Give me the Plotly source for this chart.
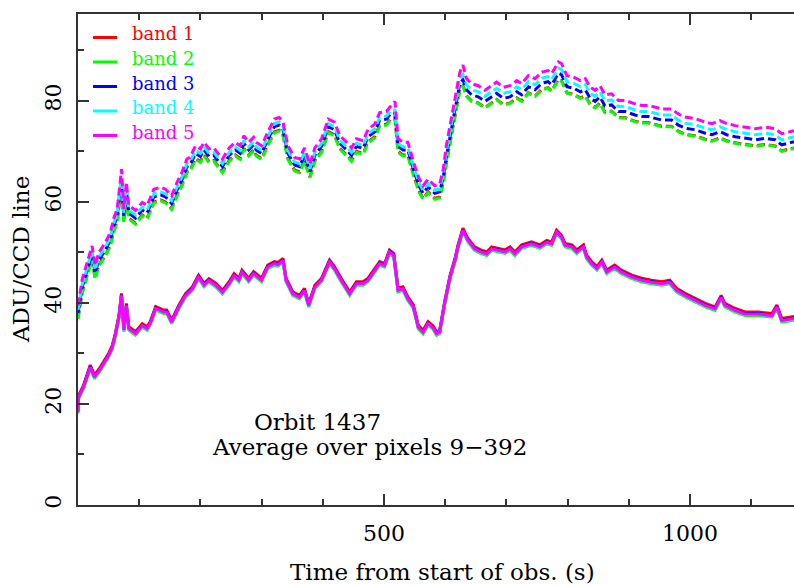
import plotly.graph_objects as go

# ---------------- data ----------------
bands = ["band 1", "band 2", "band 3", "band 4", "band 5"]
colors = ["#ff0000", "#00ff00", "#0000ff", "#00ffff", "#ff00ff"]

# lower group (solid lines)
t_low = [0, 1, 9, 20, 27, 37, 50, 56, 61, 67,
         71, 75, 79, 83, 94, 105, 113, 118, 127, 140,
         145, 153, 165, 176, 187, 197, 206, 214, 225, 236,
         247, 255, 263, 268, 279, 287, 300, 310, 321, 327,
         335, 340, 351, 362, 370, 377, 387, 398, 411, 419,
         430, 444, 455, 466, 474, 485, 493, 501, 509, 516,
         523, 531, 539, 548, 556, 564, 572, 580, 586, 591,
         599, 608, 616, 621, 629, 637, 648, 658, 668, 676,
         687, 698, 706, 714, 725, 741, 755, 766, 774, 782,
         790, 796, 807, 815, 826, 831, 839, 848, 856, 864,
         877, 888, 905, 921, 937, 954, 967, 978, 992, 1008,
         1025, 1041, 1051, 1057, 1074, 1090, 1112, 1134, 1142, 1150,
         1170]

low_band1 = [18.8, 21.7, 23.7, 27.7, 25.7, 27.4, 30.0, 31.6, 34.0, 37.6,
             41.9, 35.0, 39.9, 35.3, 34.3, 35.9, 35.3, 36.3, 39.3, 38.6,
             38.6, 36.6, 39.6, 41.9, 43.2, 45.5, 43.9, 44.8, 43.9, 42.5,
             44.2, 45.8, 44.9, 46.5, 44.9, 46.2, 44.9, 47.5, 48.2, 48.0,
             48.8, 44.9, 42.2, 41.5, 42.9, 39.9, 43.5, 44.9, 48.5, 47.2,
             44.9, 42.2, 44.2, 44.2, 44.9, 46.8, 48.2, 47.8, 50.5, 49.8,
             42.9, 43.2, 41.2, 39.6, 35.6, 34.6, 36.3, 35.5, 34.3, 34.6,
             40.2, 45.5, 48.8, 51.5, 54.8, 52.8, 51.1, 50.5, 50.1, 51.1,
             50.8, 50.5, 51.1, 50.1, 51.5, 52.1, 51.5, 52.4, 52.1, 54.4,
             53.4, 51.8, 51.5, 50.5, 51.5, 49.5, 48.2, 47.2, 48.5, 46.5,
             47.5, 46.5, 45.5, 44.9, 44.5, 44.2, 44.5, 42.9, 41.9, 40.9,
             39.9, 39.2, 41.5, 39.9, 38.9, 38.2, 38.2, 37.9, 39.6, 36.9,
             37.3]
low_band2 = [18.1, 21.0, 23.0, 27.0, 25.0, 26.7, 29.3, 30.9, 33.3, 36.9,
             41.2, 34.3, 39.2, 34.6, 33.6, 35.2, 34.6, 35.6, 38.6, 37.9,
             37.9, 35.9, 38.9, 41.2, 42.5, 44.8, 43.2, 44.1, 43.2, 41.8,
             43.5, 45.1, 44.2, 45.8, 44.2, 45.5, 44.2, 46.8, 47.5, 47.3,
             48.1, 44.2, 41.5, 40.8, 42.2, 39.2, 42.8, 44.2, 47.8, 46.5,
             44.2, 41.5, 43.5, 43.5, 44.2, 46.1, 47.5, 47.1, 49.8, 49.1,
             42.2, 42.5, 40.5, 38.9, 34.9, 33.9, 35.6, 34.8, 33.6, 33.9,
             39.5, 44.8, 48.1, 50.8, 54.1, 52.1, 50.4, 49.8, 49.4, 50.4,
             50.1, 49.8, 50.4, 49.4, 50.8, 51.4, 50.8, 51.7, 51.4, 53.7,
             52.7, 51.1, 50.8, 49.8, 50.8, 48.8, 47.5, 46.5, 47.8, 45.8,
             46.8, 45.8, 44.8, 44.2, 43.8, 43.5, 43.8, 42.2, 41.2, 40.2,
             39.2, 38.5, 40.8, 39.2, 38.2, 37.5, 37.5, 37.2, 38.9, 36.2,
             36.6]
low_band3 = [18.5, 21.4, 23.4, 27.4, 25.4, 27.1, 29.7, 31.3, 33.7, 37.3,
             41.6, 34.7, 39.6, 35.0, 34.0, 35.6, 35.0, 36.0, 39.0, 38.3,
             38.3, 36.3, 39.3, 41.6, 42.9, 45.2, 43.6, 44.5, 43.6, 42.2,
             43.9, 45.5, 44.6, 46.2, 44.6, 45.9, 44.6, 47.2, 47.9, 47.7,
             48.5, 44.6, 41.9, 41.2, 42.6, 39.6, 43.2, 44.6, 48.2, 46.9,
             44.6, 41.9, 43.9, 43.9, 44.6, 46.5, 47.9, 47.5, 50.2, 49.5,
             42.6, 42.9, 40.9, 39.3, 35.3, 34.3, 36.0, 35.2, 34.0, 34.3,
             39.9, 45.2, 48.5, 51.2, 54.5, 52.5, 50.8, 50.2, 49.8, 50.8,
             50.5, 50.2, 50.8, 49.8, 51.2, 51.8, 51.2, 52.1, 51.8, 54.1,
             53.1, 51.5, 51.2, 50.2, 51.2, 49.2, 47.9, 46.9, 48.2, 46.2,
             47.2, 46.2, 45.2, 44.6, 44.2, 43.9, 44.2, 42.6, 41.6, 40.6,
             39.6, 38.9, 41.2, 39.6, 38.6, 37.9, 37.9, 37.6, 39.3, 36.6,
             37.0]
low_band4 = [18.3, 21.2, 23.2, 27.2, 25.2, 26.9, 29.5, 31.1, 33.5, 37.1,
             41.4, 34.5, 39.4, 34.8, 33.8, 35.4, 34.8, 35.8, 38.8, 38.1,
             38.1, 36.1, 39.1, 41.4, 42.7, 45.0, 43.4, 44.3, 43.4, 42.0,
             43.7, 45.3, 44.4, 46.0, 44.4, 45.7, 44.4, 47.0, 47.7, 47.5,
             48.3, 44.4, 41.7, 41.0, 42.4, 39.4, 43.0, 44.4, 48.0, 46.7,
             44.4, 41.7, 43.7, 43.7, 44.4, 46.3, 47.7, 47.3, 50.0, 49.3,
             42.4, 42.7, 40.7, 39.1, 35.1, 34.1, 35.8, 35.0, 33.8, 34.1,
             39.7, 45.0, 48.3, 51.0, 54.3, 52.3, 50.6, 50.0, 49.6, 50.6,
             50.3, 50.0, 50.6, 49.6, 51.0, 51.6, 51.0, 51.9, 51.6, 53.9,
             52.9, 51.3, 51.0, 50.0, 51.0, 49.0, 47.7, 46.7, 48.0, 46.0,
             47.0, 46.0, 45.0, 44.4, 44.0, 43.7, 44.0, 42.4, 41.4, 40.4,
             39.4, 38.7, 41.0, 39.4, 38.4, 37.7, 37.7, 37.4, 39.1, 36.4,
             36.8]
low_band5 = [18.4, 21.3, 23.3, 27.3, 25.3, 27.0, 29.6, 31.2, 33.6, 37.2,
             41.5, 34.6, 39.5, 34.9, 33.9, 35.5, 34.9, 35.9, 38.9, 38.2,
             38.2, 36.2, 39.2, 41.5, 42.8, 45.1, 43.5, 44.4, 43.5, 42.1,
             43.8, 45.4, 44.5, 46.1, 44.5, 45.8, 44.5, 47.1, 47.8, 47.6,
             48.4, 44.5, 41.8, 41.1, 42.5, 39.5, 43.1, 44.5, 48.1, 46.8,
             44.5, 41.8, 43.8, 43.8, 44.5, 46.4, 47.8, 47.4, 50.1, 49.4,
             42.5, 42.8, 40.8, 39.2, 35.2, 34.2, 35.9, 35.1, 33.9, 34.2,
             39.8, 45.1, 48.4, 51.1, 54.4, 52.4, 50.7, 50.1, 49.7, 50.7,
             50.4, 50.1, 50.7, 49.7, 51.1, 51.7, 51.1, 52.0, 51.7, 54.0,
             53.0, 51.4, 51.1, 50.1, 51.1, 49.1, 47.8, 46.8, 48.1, 46.1,
             47.1, 46.1, 45.1, 44.5, 44.1, 43.8, 44.1, 42.5, 41.5, 40.5,
             39.5, 38.8, 41.1, 39.5, 38.5, 37.8, 37.8, 37.5, 39.2, 36.5,
             36.9]

# upper group (dashed lines)
t_up = [0, 7, 15, 23, 28, 34, 45, 53, 58, 64,
        69, 71, 75, 79, 83, 94, 105, 113, 124, 135,
        143, 153, 162, 170, 178, 183, 192, 200, 206, 214,
        222, 236, 247, 257, 265, 271, 279, 287, 291, 300,
        310, 321, 329, 335, 343, 354, 362, 370, 379, 387,
        398, 409, 419, 428, 439, 447, 455, 466, 474, 485,
        493, 504, 512, 518, 523, 531, 539, 550, 558, 564,
        572, 583, 591, 597, 602, 608, 613, 619, 624, 629,
        635, 643, 654, 665, 676, 684, 695, 706, 717, 725,
        736, 747, 758, 768, 774, 785, 790, 799, 810, 821,
        829, 837, 845, 853, 861, 872, 883, 894, 910, 921,
        932, 943, 954, 970, 981, 992, 1008, 1025, 1036, 1049,
        1060, 1074, 1090, 1107, 1123, 1139, 1150, 1170]

up_band1 = [37.0, 42.2, 45.5, 48.8, 44.9, 47.5, 49.5, 51.5, 54.1, 56.1,
            61.4, 63.0, 56.1, 61.4, 56.8, 55.8, 57.4, 56.8, 60.0, 60.4,
            60.0, 58.7, 61.4, 63.4, 66.0, 66.3, 68.6, 68.0, 69.3, 68.0,
            68.2, 66.0, 68.2, 69.3, 68.6, 70.6, 69.3, 70.3, 69.3, 68.6,
            71.3, 73.9, 74.2, 73.3, 68.6, 66.3, 66.0, 68.2, 65.0, 68.2,
            70.0, 73.9, 73.3, 70.6, 69.3, 68.2, 70.0, 69.6, 71.9, 72.9,
            75.2, 75.4, 76.6, 76.6, 70.0, 69.3, 69.3, 64.7, 62.0, 60.7,
            62.0, 60.7, 61.0, 64.0, 67.8, 71.7, 75.7, 79.0, 82.3, 83.0,
            81.0, 80.0, 79.6, 78.7, 79.6, 80.3, 79.3, 79.6, 80.6, 80.0,
            81.6, 81.0, 82.3, 82.6, 82.0, 84.3, 84.0, 81.6, 81.3, 80.6,
            81.0, 79.3, 78.7, 79.6, 77.8, 78.0, 76.7, 76.7, 76.0, 75.7,
            75.7, 75.4, 75.0, 75.0, 74.0, 73.4, 73.1, 72.4, 72.1, 72.7,
            72.1, 71.7, 71.4, 71.1, 71.4, 71.1, 70.1, 70.7]
up_band2 = [36.8, 42.0, 45.3, 48.6, 44.7, 47.3, 49.3, 51.3, 53.9, 55.9,
            61.2, 62.8, 55.9, 61.2, 56.6, 55.6, 57.2, 56.6, 59.8, 60.2,
            59.8, 58.5, 61.2, 63.2, 65.8, 66.1, 68.4, 67.8, 69.1, 67.8,
            68.0, 65.8, 68.0, 69.1, 68.4, 70.4, 69.1, 70.1, 69.1, 68.4,
            71.1, 73.7, 74.0, 73.1, 68.4, 66.1, 65.8, 68.0, 64.8, 68.0,
            69.8, 73.7, 73.1, 70.4, 69.1, 68.0, 69.8, 69.4, 71.7, 72.7,
            75.0, 75.2, 76.4, 76.4, 69.8, 69.1, 69.1, 64.5, 61.8, 60.5,
            61.8, 60.5, 60.8, 63.8, 67.7, 71.6, 75.6, 78.9, 82.2, 82.9,
            80.9, 79.9, 79.5, 78.6, 79.5, 80.2, 79.2, 79.5, 80.5, 79.9,
            81.5, 80.9, 82.2, 82.5, 81.9, 84.2, 83.9, 81.5, 81.2, 80.5,
            80.9, 79.2, 78.6, 79.5, 77.7, 77.9, 76.6, 76.6, 75.9, 75.6,
            75.6, 75.3, 74.9, 74.9, 73.9, 73.3, 73.0, 72.3, 72.0, 72.6,
            72.0, 71.6, 71.3, 71.0, 71.3, 71.0, 70.0, 70.6]
up_band3 = [38.0, 43.2, 46.5, 49.8, 45.9, 48.5, 50.5, 52.5, 55.1, 57.1,
            62.4, 64.0, 57.1, 62.4, 57.8, 56.8, 58.4, 57.8, 61.0, 61.4,
            61.0, 59.7, 62.4, 64.4, 67.0, 67.3, 69.6, 69.0, 70.3, 69.0,
            69.2, 67.0, 69.2, 70.3, 69.6, 71.6, 70.3, 71.3, 70.3, 69.6,
            72.3, 74.9, 75.2, 74.3, 69.6, 67.3, 67.0, 69.2, 66.0, 69.2,
            71.0, 74.9, 74.3, 71.6, 70.3, 69.2, 71.0, 70.6, 72.9, 73.9,
            76.2, 76.4, 77.6, 77.6, 71.0, 70.3, 70.3, 65.7, 63.0, 61.7,
            63.0, 61.7, 62.0, 65.0, 69.0, 72.9, 76.9, 80.2, 83.5, 84.2,
            82.2, 81.2, 80.8, 79.9, 80.8, 81.5, 80.5, 80.8, 81.8, 81.2,
            82.8, 82.2, 83.5, 83.8, 83.2, 85.5, 85.2, 82.8, 82.5, 81.8,
            82.2, 80.5, 79.9, 80.8, 79.0, 79.2, 77.9, 77.9, 77.2, 76.9,
            76.9, 76.6, 76.2, 76.2, 75.2, 74.6, 74.3, 73.6, 73.3, 73.9,
            73.3, 72.9, 72.6, 72.3, 72.6, 72.3, 71.3, 71.9]
up_band4 = [38.6, 43.8, 47.1, 50.4, 46.5, 49.1, 51.1, 53.1, 55.7, 57.7,
            63.0, 64.6, 57.7, 63.0, 58.4, 57.4, 59.0, 58.4, 61.6, 62.0,
            61.6, 60.3, 63.0, 65.0, 67.6, 67.9, 70.2, 69.6, 70.9, 69.6,
            69.8, 67.6, 69.8, 70.9, 70.2, 72.2, 70.9, 71.9, 70.9, 70.2,
            72.9, 75.5, 75.8, 74.9, 70.2, 67.9, 67.6, 69.8, 66.6, 69.8,
            71.6, 75.5, 74.9, 72.2, 70.9, 69.8, 71.6, 71.2, 73.5, 74.5,
            76.8, 77.0, 78.2, 78.2, 71.6, 70.9, 70.9, 66.3, 63.6, 62.3,
            63.6, 62.3, 62.6, 65.6, 70.0, 73.9, 77.9, 81.2, 84.5, 85.2,
            83.2, 82.2, 81.8, 80.9, 81.8, 82.5, 81.5, 81.8, 82.8, 82.2,
            83.8, 83.2, 84.5, 84.8, 84.2, 86.5, 86.2, 83.8, 83.5, 82.8,
            83.2, 81.5, 80.9, 81.8, 80.0, 80.2, 78.9, 78.9, 78.2, 77.9,
            77.9, 77.6, 77.2, 77.2, 76.2, 75.6, 75.3, 74.6, 74.3, 74.9,
            74.3, 73.9, 73.6, 73.3, 73.6, 73.3, 72.3, 72.9]
up_band5 = [39.5, 44.7, 48.0, 51.3, 47.4, 50.0, 52.0, 54.0, 56.6, 58.6,
            63.9, 66.5, 58.6, 63.9, 59.3, 58.3, 59.9, 59.3, 62.5, 62.9,
            62.5, 61.2, 63.9, 65.9, 68.5, 68.8, 71.1, 70.5, 71.8, 70.5,
            70.7, 68.5, 70.7, 71.8, 71.1, 73.1, 71.8, 72.8, 71.8, 71.1,
            73.8, 76.4, 76.7, 75.8, 71.1, 68.8, 68.5, 70.7, 67.5, 70.7,
            72.5, 76.4, 75.8, 73.1, 71.8, 70.7, 72.5, 72.1, 74.4, 75.4,
            77.7, 77.9, 79.1, 79.9, 72.5, 71.8, 71.8, 67.2, 64.5, 63.2,
            64.5, 63.2, 63.5, 66.5, 71.2, 75.1, 79.1, 82.4, 85.7, 87.1,
            84.4, 83.4, 83.0, 82.1, 83.0, 83.7, 82.7, 83.0, 84.0, 83.4,
            85.0, 84.4, 85.7, 86.0, 85.4, 87.7, 87.4, 85.0, 84.7, 84.0,
            84.4, 82.7, 82.1, 83.0, 81.2, 81.4, 80.1, 80.1, 79.4, 79.1,
            79.1, 78.8, 78.4, 78.4, 77.4, 76.8, 76.5, 75.8, 75.5, 76.1,
            75.5, 75.1, 74.8, 74.5, 74.8, 74.5, 73.5, 74.1]

low_all = [low_band1, low_band2, low_band3, low_band4, low_band5]
up_all = [up_band1, up_band2, up_band3, up_band4, up_band5]

x_range = [0, 1170]
y_range = [0, 97.2]
x_major = [500, 1000]
x_minor = [100, 200, 300, 400, 600, 700, 800, 900, 1100]
y_major = [0, 20, 40, 60, 80]
y_minor = [10, 30, 50, 70, 90]

FONT = "DejaVu Serif"
AX = "#333333"

# ---------------- figure ----------------
fig = go.Figure()
for name, col, ys in zip(bands, colors, low_all):
    fig.add_trace(go.Scatter(x=t_low, y=ys, mode="lines", name=name,
                             line=dict(color=col, width=3), showlegend=False))
for name, col, ys in zip(bands, colors, up_all):
    fig.add_trace(go.Scatter(x=t_up, y=ys, mode="lines", name=name,
                             line=dict(color=col, width=3, dash="8px,4px"),
                             showlegend=False))

# pixel helpers for layout (plot area 78..794 x 14..505)
L, R, T, B = 78, 794, 14, 505
def px(xp):
    return (xp - L) / (R - L)
def py(yp):
    return (B - yp) / (B - T)

# manual legend
leg_y = [34, 58.5, 83, 107.5, 132]
for name, col, yy in zip(bands, colors, leg_y):
    fig.add_shape(type="line", xref="paper", yref="paper",
                  x0=px(93), x1=px(117), y0=py(yy + 3.5), y1=py(yy + 3.5),
                  line=dict(color=col, width=3))
    fig.add_annotation(text=name, xref="paper", yref="paper",
                       x=px(130), y=py(yy), xanchor="left", yanchor="middle",
                       showarrow=False, font=dict(family=FONT, size=18, color=col))

fig.add_annotation(text="Orbit 1437", xref="paper", yref="paper",
                   x=px(317), y=py(422), xanchor="center", yanchor="middle",
                   showarrow=False, font=dict(family=FONT, size=23, color="black"))
fig.add_annotation(text="Average over pixels 9\u2212392", xref="paper", yref="paper",
                   x=px(369), y=py(447), xanchor="center", yanchor="middle",
                   showarrow=False, font=dict(family=FONT, size=23, color="black"))
fig.add_annotation(text="Time from start of obs. (s)", xref="paper", yref="paper",
                   x=px(442), y=py(572), xanchor="center", yanchor="middle",
                   showarrow=False, font=dict(family=FONT, size=23, color="black"))
fig.add_annotation(text="ADU/CCD line", xref="paper", yref="paper",
                   x=px(21), y=py(260), xanchor="center", yanchor="middle",
                   textangle=-90, showarrow=False,
                   font=dict(family=FONT, size=23, color="black"))

fig.update_layout(
    width=794, height=585,
    margin=dict(l=L, r=794 - R, t=T, b=585 - B, pad=0),
    paper_bgcolor="white", plot_bgcolor="white",
    showlegend=False,
    xaxis=dict(range=x_range, showgrid=False, zeroline=False,
               showline=True, linecolor=AX, linewidth=2, mirror="allticks",
               ticks="inside", ticklen=11, tickwidth=1.5, tickcolor=AX,
               tickvals=x_major, ticktext=[str(v) for v in x_major],
               minor=dict(tickvals=x_minor, ticks="inside", ticklen=6,
                          tickwidth=1.5, tickcolor=AX),
               tickfont=dict(family=FONT, size=22, color="black"),
               ticklabelstandoff=8),
    yaxis=dict(range=y_range, showgrid=False, zeroline=False,
               showline=True, linecolor=AX, linewidth=2, mirror=False,
               ticks="inside", ticklen=11, tickwidth=1.5, tickcolor=AX,
               tickvals=y_major, ticktext=[str(v) for v in y_major],
               tickangle=-90,
               minor=dict(tickvals=y_minor, ticks="inside", ticklen=6,
                          tickwidth=1.5, tickcolor=AX),
               tickfont=dict(family=FONT, size=22, color="black"),
               ticklabelstandoff=6),
)

fig.write_html("out.html")
